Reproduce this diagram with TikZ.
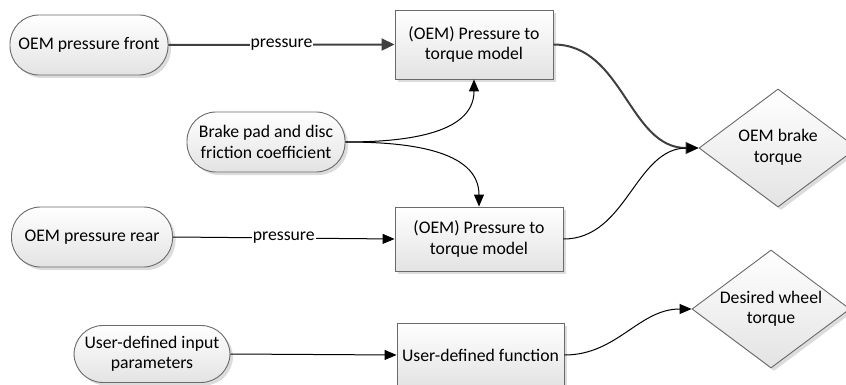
\documentclass[tikz,border=0pt]{standalone}
\usepackage{fontspec}
\setmainfont{Carlito}
\usetikzlibrary{arrows.meta,shapes.geometric,shadows}

\definecolor{edgedark}{HTML}{404040}
\definecolor{framegray}{HTML}{6A6A6A}

\begin{document}
\begin{tikzpicture}[x=1pt,y=-1pt,
  font=\fontsize{17.7}{20.5}\selectfont,
  basefill/.style={top color=white,bottom color=black!11,draw=framegray,line width=0.9pt,
    drop shadow={shadow xshift=3pt,shadow yshift=-3pt,fill=black!30,opacity=0.45}},
  term/.style={basefill,rounded corners=29pt,minimum height=60pt,align=center,inner sep=0pt},
  proc/.style={basefill,rectangle,align=center,inner sep=0pt},
  dec/.style={basefill,diamond,aspect=1.34,minimum width=158pt,minimum height=118pt,align=center,inner sep=0pt},
  thinedge/.style={draw=black,line width=1pt,-{Triangle[length=12pt,width=10pt]}},
  thickedge/.style={draw=edgedark,line width=2pt,-{Triangle[length=13pt,width=12pt]}},
  lbl/.style={fill=white,inner sep=1pt,text=black}
]
\useasboundingbox (0,0) rectangle (846,385);
\clip (0,0) rectangle (846,385);

% source terminals
\node[term,minimum width=158pt] (front) at (89,45) {OEM pressure front};
\node[term,minimum width=158pt] (pad) at (266,142) {Brake pad and disc\\friction coefficient};
\node[term,minimum width=161pt] (rear) at (92,237) {OEM pressure rear};
\node[term,minimum width=156pt,minimum height=57pt] (user) at (152,354) {User-defined input\\parameters};

% processing blocks
\node[proc,minimum width=158pt,minimum height=69pt] (modelf) at (474,44.5) {(OEM) Pressure to\\torque model};
\node[proc,minimum width=168pt,minimum height=64pt] (modelr) at (479,239) {(OEM) Pressure to\\torque model};
\node[proc,minimum width=167pt,minimum height=64pt] (func) at (480.5,355) {User-defined function};

% outputs
\node[dec] (oemtq) at (778,148) {\raisebox{-3pt}{\begin{tabular}{@{}c@{}}OEM brake\\torque\end{tabular}}};
\node[dec] (wheeltq) at (771,309) {Desired wheel\\torque};

% connectors
\draw[thickedge] (front.east) -- node[lbl]{pressure} (modelf.west);
\draw[thinedge] (rear.east) -- node[lbl]{pressure} (modelr.west);
\draw[thinedge] (pad.east) to[out=0,in=-90] (modelf.south);
\draw[thinedge] (pad.east) to[out=0,in=90] (modelr.north);
\draw[thickedge] (modelf.east) to[out=0,in=180] (oemtq.west);
\draw[thinedge] (modelr.east) to[out=0,in=180] (oemtq.west);
\draw[thinedge] (user.east) -- (func.west);
\draw[thinedge] (func.east) to[out=0,in=180] (wheeltq.west);
\end{tikzpicture}
\end{document}
